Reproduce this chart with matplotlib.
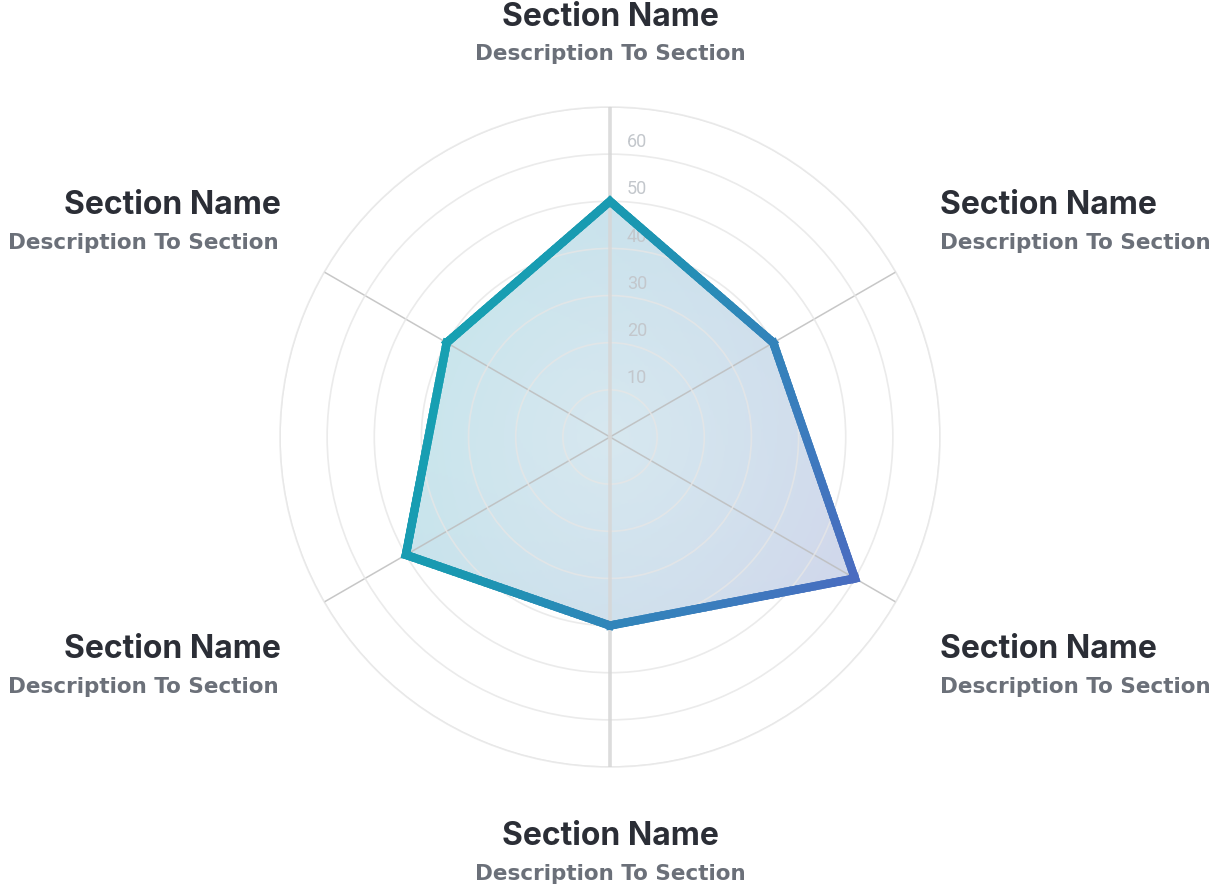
import numpy as np
import matplotlib
matplotlib.use("Agg")
import matplotlib.pyplot as plt
from matplotlib.collections import LineCollection
from matplotlib.colors import LinearSegmentedColormap, to_rgb

# data (clockwise from the top)
section_names = ["Section Name"] * 6
section_descs = ["Description To Section"] * 6
values = [50, 40, 60, 40, 50, 40]
r_ticks = [10, 20, 30, 40, 50, 60, 70]
r_tick_labels = ["10", "20", "30", "40", "50", "60", ""]
r_max = 70

W, H = 1218, 888
fig = plt.figure(figsize=(W / 100, H / 100), dpi=100)
fig.patch.set_facecolor("white")

# polar axes: centre (610, 437) px, radius 330 px
cx, cy, rad = 610, 437, 330
ax = fig.add_axes([(cx - rad) / W, 1 - (cy + rad) / H, 2 * rad / W, 2 * rad / H],
                  projection="polar")
ax.set_theta_zero_location("N")
ax.set_theta_direction(-1)
ax.set_ylim(0, r_max)
ax.set_axisbelow(False)

n = len(values)
theta = np.arange(n) * 2 * np.pi / n
ax.set_xticks(np.deg2rad([60, 120, 240, 300]))
ax.set_xticklabels([])
ax.xaxis.grid(True, color="#bdbdbd", linewidth=1.1, alpha=0.85)
ax.set_yticks(r_ticks)
ax.set_yticklabels([])
ax.yaxis.grid(True, color="#e6e6e6", linewidth=1.2, alpha=0.8)
ax.spines["polar"].set_color("#ececec")
ax.spines["polar"].set_linewidth(1.2)
ax.axvline(0, color="#d6d6d6", linewidth=2.6, alpha=0.85, zorder=2.6)
ax.axvline(np.pi, color="#d6d6d6", linewidth=2.6, alpha=0.85, zorder=2.6)

for v, lab in zip(r_ticks, r_tick_labels):
    ax.annotate(lab, xy=(0, v), xytext=(19.5, 8.5), textcoords="offset points",
                ha="center", va="center", fontsize=13, color="#c3c7cc",
                family="Roboto", zorder=3)

# filled area with a soft gradient
th_closed = np.append(theta, theta[0])
v_closed = np.append(values, values[0])
poly = ax.fill(th_closed, v_closed, facecolor="none", edgecolor="none", zorder=2)[0]

tg = np.linspace(0, 2 * np.pi, 361)
rg = np.linspace(0, r_max, 141)
T, R = np.meshgrid(tg[:-1] + np.pi / 360, rg[:-1] + r_max / 280)
X, Y = R * np.sin(T), R * np.cos(T)
s = np.clip((X - 0.4 * Y + 45) / 100, 0, 1)[..., None]
c_left = np.array(to_rgb("#c4e4eb"))
c_right = np.array(to_rgb("#d0d8eb"))
c_mid = np.array(to_rgb("#dcebf1"))
base = c_left * (1 - s) + c_right * s
w = np.clip(1 - R / 55, 0, 1)[..., None] * 0.7
rgb = base * (1 - w) + c_mid * w
mesh = ax.pcolormesh(tg, rg, rgb, shading="flat", zorder=2)
mesh.set_clip_path(poly)

# outline with a left-to-right gradient
cmap = LinearSegmentedColormap.from_list(
    "edge", ["#17a0b2", "#1a97b1", "#2c89b8", "#3a7dbd", "#4a6cc0"])
px = np.array(values) * np.sin(theta)
py = np.array(values) * np.cos(theta)
steps = 40
pts_x, pts_y = [], []
for i in range(n):
    j = (i + 1) % n
    f = np.linspace(0, 1, steps + 1)[:-1]
    pts_x.append(px[i] + (px[j] - px[i]) * f)
    pts_y.append(py[i] + (py[j] - py[i]) * f)
pts_x = np.append(np.concatenate(pts_x), px[0])
pts_y = np.append(np.concatenate(pts_y), py[0])
pts_t = np.arctan2(pts_x, pts_y)
pts_r = np.hypot(pts_x, pts_y)
sv = pts_x - 0.5 * pts_y
sn = (sv - sv.min()) / (sv.max() - sv.min())
segs = np.stack([np.column_stack([pts_t[:-1], pts_r[:-1]]),
                 np.column_stack([pts_t[1:], pts_r[1:]])], axis=1)
seg_c = cmap((sn[:-1] + sn[1:]) / 2)
lw = 6.0
lc = LineCollection(segs, colors=seg_c, linewidths=lw, capstyle="projecting", zorder=4)
ax.add_collection(lc)
# sharp corners
m = len(pts_t) - 1
for i in range(n):
    k = i * steps
    idx = [(k - 1) % m, k, (k + 1) % m]
    ax.plot(pts_t[idx], pts_r[idx], color=cmap(sn[k]), linewidth=lw,
            solid_joinstyle="miter", solid_capstyle="butt", zorder=5)

ax.set_ylim(0, r_max)

# section labels (px positions)
name_kw = dict(fontsize=23, fontweight="bold", color="#2b2e36", family="Inter")
desc_kw = dict(fontsize=15.5, fontweight="bold", color="#6b7079", family="DejaVu Sans")
lab_x = [610, 940, 940, 610, 281, 281]
lab_ha = ["center", "left", "left", "center", "right", "right"]
name_y = [17, 205, 650, 836, 650, 205]
desc_y = [54, 243, 687, 874, 687, 243]
for i in range(n):
    fig.text(lab_x[i] / W, 1 - name_y[i] / H, section_names[i], ha=lab_ha[i],
             va="center", **name_kw)
    dx = -2 if lab_ha[i] == "right" else 0
    fig.text((lab_x[i] + dx) / W, 1 - desc_y[i] / H, section_descs[i], ha=lab_ha[i],
             va="center", **desc_kw)

fig.savefig("out.png", dpi=100, facecolor="white")
